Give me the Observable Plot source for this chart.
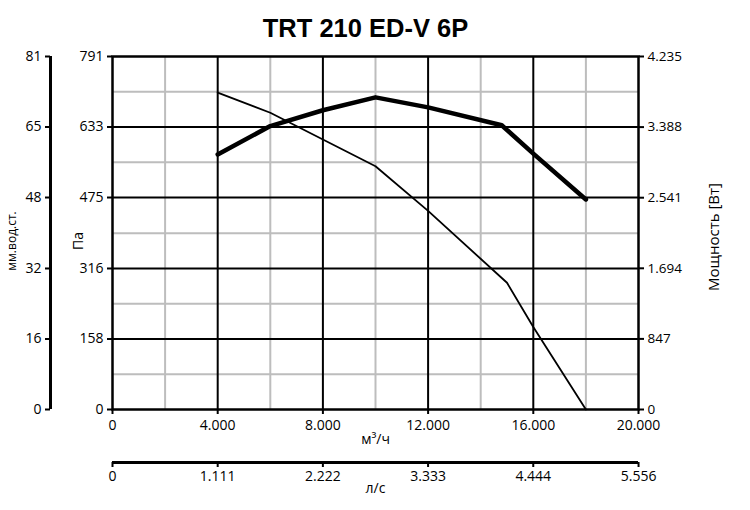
<!DOCTYPE html>
<html>
<head>
<meta charset="utf-8">
<script src="https://cdn.jsdelivr.net/npm/d3@7"></script>
<script src="https://cdn.jsdelivr.net/npm/@observablehq/plot@0.6"></script>
<style>
  html, body { margin: 0; padding: 0; background: white; }
</style>
</head>
<body>
<div id="chart"></div>
<script>
// ---- data ----
const title = "TRT 210 ED-V 6P";

// pressure curve (m³/h, Pa)
const pressureFlow = [4000, 6000, 10000, 12000, 15000, 16000, 18000];
const pressurePa   = [710, 665, 545, 445, 284, 185, 0];

// power curve (m³/h, W)
const powerFlow = [4000, 6000, 8000, 10000, 12000, 14800, 16000, 18000];
const powerW    = [3060, 3400, 3590, 3745, 3625, 3410, 3070, 2520];

// axes
const flowTicks  = [0, 4000, 8000, 12000, 16000, 20000];
const flowMinor  = [2000, 6000, 10000, 14000, 18000];
const paTicks    = [0, 158, 316, 475, 633, 791];
const paMinor    = [79, 237, 395, 554, 712];
const mmLabels   = ["0", "16", "32", "48", "65", "81"];
const powerTicks = [0, 847, 1694, 2541, 3388, 4235];
const lpsTicks   = [0, 1111, 2222, 3333, 4444, 5556];
const lpsLabels  = ["0", "1.111", "2.222", "3.333", "4.444", "5.556"];

const paMax = 791, powerMax = 4235;
const wToPa = w => w * paMax / powerMax;

const fmt = d3.formatLocale({decimal: ",", thousands: ".", grouping: [3], currency: ["", ""]}).format(",");

const pressureData = pressureFlow.map((q, i) => ({q, p: pressurePa[i]}));
const powerData = powerFlow.map((q, i) => ({q, w: powerW[i]}));

const font = "Open Sans";

const chart = Plot.plot({
  width: 750,
  height: 510,
  marginTop: 56,
  marginLeft: 112,
  marginRight: 112,
  marginBottom: 101,
  x: {domain: [0, 20000], axis: null},
  y: {domain: [0, paMax], axis: null},
  style: {fontFamily: font, fontSize: "14px", color: "black", background: "white"},
  marks: [
    Plot.ruleX(flowMinor, {stroke: "#bdbdbd", strokeWidth: 2}),
    Plot.ruleY(paMinor, {stroke: "#bdbdbd", strokeWidth: 2}),
    Plot.ruleX(flowTicks.slice(1, -1), {stroke: "black", strokeWidth: 2}),
    Plot.ruleY(paTicks.slice(1, -1), {stroke: "black", strokeWidth: 2}),
    Plot.frame({stroke: "black", strokeWidth: 2.5}),
    Plot.line(pressureData, {x: "q", y: "p", stroke: "black", strokeWidth: 1.8}),
    Plot.line(powerData, {x: "q", y: d => wToPa(d.w), stroke: "black", strokeWidth: 4.5}),
    // bottom m³/h axis
    Plot.axisX(flowTicks, {anchor: "bottom", tickFormat: fmt, tickSize: 5, tickPadding: 6, strokeWidth: 2, fontSize: 14, label: null}),
    // l/s axis
    Plot.ruleY([0], {dy: 53, stroke: "black", strokeWidth: 3}),
    Plot.axisX(lpsTicks.map(v => v * 3.6), {anchor: "bottom", dy: 53, tickSize: 5, strokeWidth: 2, fontSize: 14,
      tickFormat: d => lpsLabels[lpsTicks.findIndex(v => Math.abs(v * 3.6 - d) < 1e-6)], label: null}),
    // Pa axis
    Plot.axisY(paTicks, {anchor: "left", tickSize: 5, strokeWidth: 2, fontSize: 14, tickFormat: d => String(d), label: null}),
    // mm water axis
    Plot.ruleX([0], {dx: -62, stroke: "black", strokeWidth: 3}),
    Plot.axisY(paTicks, {anchor: "left", dx: -62, tickSize: 5, strokeWidth: 2, fontSize: 14,
      tickFormat: d => mmLabels[paTicks.indexOf(d)], label: null}),
    // power axis
    Plot.axisY(powerTicks.map(wToPa), {anchor: "right", tickSize: 5, strokeWidth: 2, fontSize: 13.5,
      tickFormat: d => fmt(powerTicks[powerTicks.findIndex(w => Math.abs(wToPa(w) - d) < 1e-6)]), label: null}),
    // labels
    Plot.text([title], {frameAnchor: "top", lineAnchor: "middle", dy: -28, dx: -10, fontSize: 25.5, fontWeight: "bold", fontFamily: "Liberation Sans"}),
    Plot.text(["Па"], {frameAnchor: "left", textAnchor: "middle", lineAnchor: "middle", dx: -34, dy: 8, rotate: -90, fontSize: 14}),
    Plot.text(["мм.вод.ст."], {frameAnchor: "left", textAnchor: "middle", lineAnchor: "middle", dx: -100, dy: 8, rotate: -90, fontSize: 12}),
    Plot.text(["Мощность [Вт]"], {frameAnchor: "right", textAnchor: "middle", lineAnchor: "middle", dx: 76, dy: 4, rotate: -90, fontSize: 15}),
    Plot.text(["м³/ч"], {frameAnchor: "bottom", lineAnchor: "middle", dy: 30, fontSize: 14}),
    Plot.text(["л/с"], {frameAnchor: "bottom", lineAnchor: "middle", dy: 79, fontSize: 14})
  ]
});
document.getElementById("chart").append(chart);
</script>
</body>
</html>
